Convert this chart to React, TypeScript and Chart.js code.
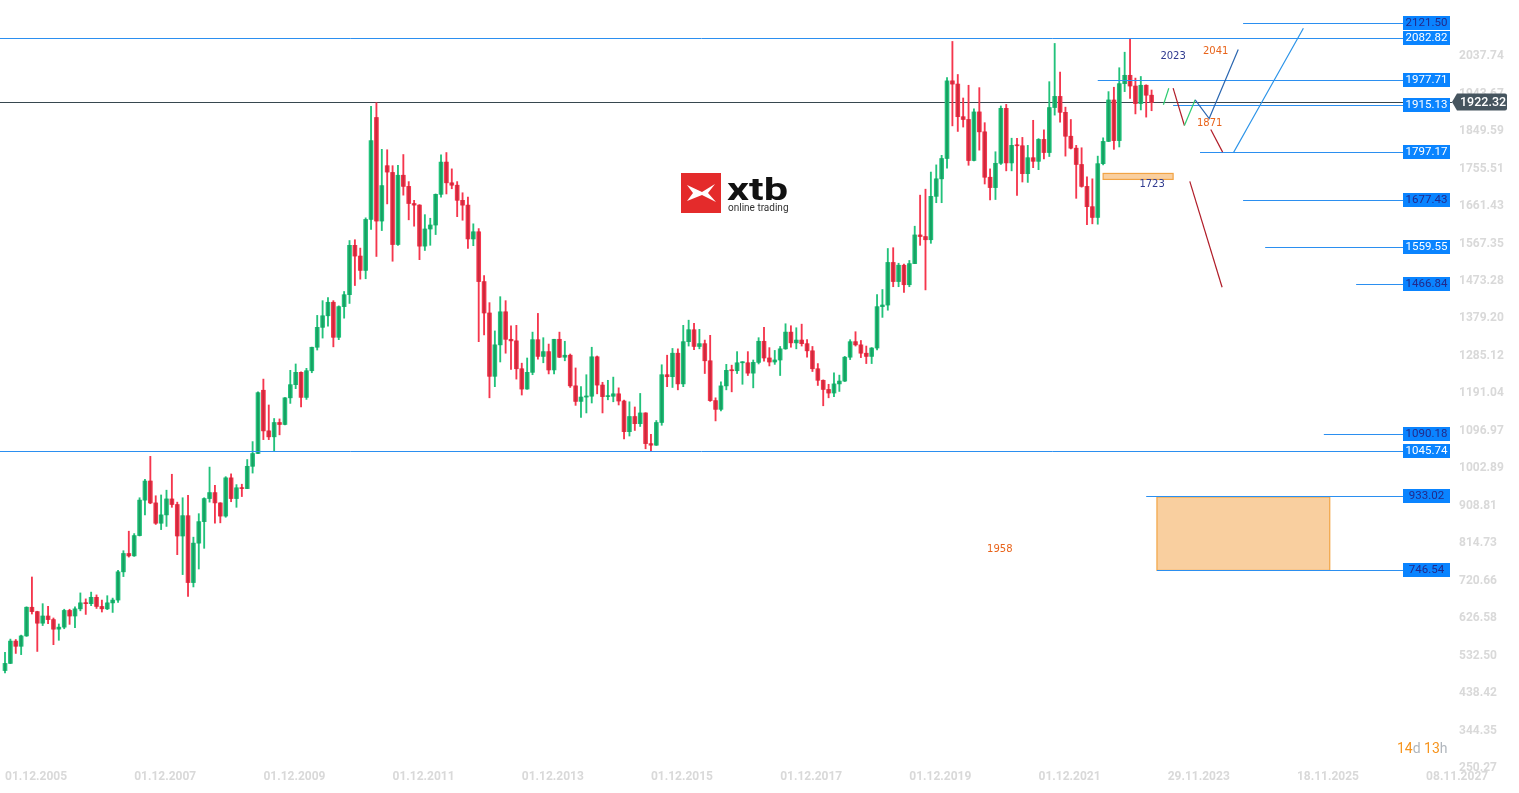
import React, { useEffect, useRef } from "react";
import { Chart, registerables } from "chart.js";

Chart.register(...registerables);

// Monthly gold candles, index 0 = Dec 2005, last = Sep 2023 (running)
const OPEN = [
  495, 513, 569, 556, 582, 654, 643, 614, 632, 623,
  599, 604, 646, 632, 650, 665, 663, 679, 656, 650,
  665, 672, 743, 789, 783, 834, 923, 971, 916, 865,
  886, 926, 912, 833, 884, 716, 815, 869, 927, 942,
  916, 883, 979, 927, 954, 952, 1008, 1040, 1199, 1097,
  1082, 1118, 1113, 1180, 1213, 1244, 1181, 1248, 1307, 1357,
  1386, 1420, 1332, 1409, 1439, 1563, 1536, 1500, 1628, 1884,
  1624, 1763, 1746, 1565, 1739, 1711, 1668, 1664, 1561, 1604,
  1614, 1691, 1772, 1720, 1714, 1676, 1664, 1579, 1597, 1472,
  1393, 1234, 1313, 1396, 1327, 1323, 1253, 1202, 1244, 1326,
  1284, 1296, 1250, 1327, 1282, 1287, 1210, 1171, 1182, 1184,
  1283, 1212, 1183, 1184, 1190, 1172, 1095, 1133, 1115, 1142,
  1065, 1061, 1118, 1238, 1233, 1292, 1215, 1321, 1351, 1309,
  1316, 1273, 1173, 1151, 1210, 1249, 1248, 1268, 1268, 1242,
  1269, 1322, 1280, 1270, 1275, 1303, 1345, 1318, 1325, 1316,
  1298, 1253, 1224, 1201, 1192, 1215, 1222, 1282, 1321, 1313,
  1292, 1284, 1305, 1409, 1413, 1520, 1472, 1513, 1464, 1517,
  1589, 1585, 1577, 1686, 1730, 1781, 1976, 1968, 1886, 1879,
  1776, 1898, 1848, 1734, 1708, 1769, 1907, 1770, 1814, 1813,
  1743, 1783, 1774, 1829, 1796, 1909, 1937, 1897, 1837, 1807,
  1766, 1711, 1660, 1633, 1768, 1824, 1928, 1826, 1969, 1990,
  1963, 1919, 1965, 1940,
];
const HIGH = [
  541, 574, 573, 584, 655, 730, 644, 663, 656, 627,
  612, 649, 649, 655, 690, 675, 692, 685, 672, 683,
  677, 747, 796, 845, 839, 929, 975, 1033, 934, 936,
  948, 988, 918, 929, 935, 830, 889, 929, 1006, 960,
  916, 982, 989, 962, 963, 1025, 1070, 1195, 1227, 1162,
  1128, 1127, 1180, 1249, 1265, 1245, 1254, 1307, 1387, 1424,
  1432, 1424, 1411, 1447, 1575, 1577, 1556, 1632, 1912, 1921,
  1804, 1803, 1763, 1764, 1791, 1723, 1676, 1665, 1640, 1631,
  1692, 1790, 1796, 1755, 1723, 1695, 1684, 1617, 1605, 1487,
  1419, 1348, 1434, 1424, 1361, 1362, 1267, 1280, 1345, 1392,
  1331, 1315, 1325, 1345, 1322, 1290, 1255, 1208, 1238, 1307,
  1285, 1219, 1224, 1232, 1205, 1174, 1170, 1157, 1191, 1142,
  1088, 1123, 1263, 1287, 1304, 1303, 1362, 1375, 1367, 1352,
  1325, 1337, 1180, 1220, 1264, 1262, 1296, 1270, 1296, 1275,
  1331, 1357, 1306, 1299, 1309, 1366, 1361, 1356, 1365, 1326,
  1309, 1266, 1225, 1214, 1243, 1237, 1284, 1326, 1346, 1324,
  1310, 1306, 1439, 1452, 1555, 1557, 1518, 1516, 1525, 1611,
  1689, 1704, 1747, 1765, 1789, 1984, 2075, 1992, 1933, 1965,
  1906, 1959, 1871, 1755, 1798, 1913, 1917, 1832, 1832, 1834,
  1814, 1877, 1831, 1853, 1974, 2070, 1998, 1910, 1879, 1814,
  1808, 1735, 1730, 1787, 1833, 1949, 1960, 2009, 2048, 2081,
  1983, 1987, 1966, 1953,
];
const LOW = [
  489, 513, 538, 535, 581, 637, 543, 608, 613, 560,
  571, 600, 611, 603, 645, 636, 658, 651, 642, 648,
  641, 666, 731, 780, 782, 833, 886, 914, 862, 849,
  857, 905, 786, 736, 681, 705, 750, 802, 918, 865,
  866, 880, 919, 905, 932, 952, 991, 1040, 1075, 1075,
  1045, 1087, 1112, 1166, 1203, 1157, 1176, 1243, 1300, 1330,
  1360, 1308, 1326, 1380, 1417, 1462, 1478, 1479, 1603, 1535,
  1600, 1667, 1523, 1563, 1689, 1627, 1611, 1527, 1550, 1563,
  1590, 1684, 1692, 1705, 1635, 1626, 1555, 1562, 1321, 1338,
  1180, 1208, 1270, 1292, 1251, 1227, 1187, 1202, 1238, 1277,
  1268, 1240, 1240, 1281, 1273, 1206, 1161, 1131, 1142, 1167,
  1190, 1142, 1175, 1170, 1162, 1077, 1084, 1098, 1108, 1052,
  1046, 1061, 1111, 1208, 1206, 1200, 1208, 1310, 1301, 1303,
  1241, 1171, 1122, 1147, 1200, 1195, 1241, 1214, 1236, 1205,
  1265, 1272, 1260, 1264, 1236, 1302, 1307, 1303, 1310, 1282,
  1246, 1211, 1160, 1180, 1183, 1196, 1221, 1276, 1310, 1281,
  1266, 1266, 1300, 1382, 1400, 1459, 1459, 1445, 1459, 1517,
  1563, 1451, 1568, 1670, 1670, 1757, 1863, 1849, 1860, 1764,
  1775, 1802, 1717, 1677, 1678, 1766, 1750, 1750, 1688, 1722,
  1721, 1758, 1753, 1780, 1786, 1890, 1872, 1787, 1805, 1681,
  1709, 1615, 1617, 1616, 1765, 1824, 1804, 1810, 1949, 1932,
  1893, 1903, 1885, 1901,
];
const CLOSE = [
  513, 569, 556, 582, 654, 643, 614, 632, 623, 599,
  604, 646, 632, 650, 665, 663, 679, 656, 650, 665,
  672, 743, 789, 783, 834, 923, 971, 916, 865, 886,
  926, 912, 833, 884, 716, 815, 869, 927, 942, 916,
  883, 979, 927, 954, 952, 1008, 1040, 1193, 1097, 1082,
  1118, 1113, 1180, 1213, 1244, 1181, 1248, 1307, 1357, 1386,
  1420, 1332, 1409, 1439, 1563, 1536, 1500, 1628, 1826, 1624,
  1713, 1747, 1565, 1739, 1711, 1668, 1664, 1561, 1604, 1614,
  1691, 1772, 1720, 1714, 1676, 1664, 1579, 1597, 1472, 1393,
  1234, 1313, 1396, 1327, 1323, 1253, 1202, 1244, 1326, 1284,
  1296, 1250, 1327, 1282, 1287, 1210, 1171, 1182, 1184, 1283,
  1212, 1183, 1184, 1190, 1172, 1095, 1133, 1115, 1142, 1065,
  1061, 1118, 1238, 1233, 1292, 1215, 1321, 1351, 1309, 1316,
  1273, 1173, 1151, 1210, 1249, 1248, 1268, 1268, 1242, 1269,
  1322, 1280, 1270, 1275, 1303, 1345, 1318, 1325, 1316, 1298,
  1253, 1224, 1201, 1192, 1215, 1222, 1282, 1321, 1313, 1292,
  1284, 1305, 1409, 1413, 1520, 1472, 1513, 1464, 1517, 1589,
  1585, 1577, 1686, 1730, 1781, 1976, 1968, 1886, 1879, 1776,
  1898, 1848, 1734, 1708, 1769, 1907, 1770, 1814, 1813, 1743,
  1783, 1774, 1829, 1796, 1909, 1937, 1897, 1837, 1807, 1766,
  1711, 1660, 1633, 1768, 1824, 1928, 1826, 1969, 1990, 1963,
  1919, 1965, 1940, 1922.32,
];

const LAST_PRICE = 1922.32;

// x axis (month index since Dec 2005)
const X_TICK_MONTHS = [0, 24, 48, 72, 96, 120, 144, 168, 192, 216, 240, 264];
const X_TICK_LABELS = [
  "01.12.2005", "01.12.2007", "01.12.2009", "01.12.2011", "01.12.2013", "01.12.2015",
  "01.12.2017", "01.12.2019", "01.12.2021", "29.11.2023", "18.11.2025", "08.11.2027",
];
const X_MIN = -0.929;
const X_MAX = 268.81;

// y axis
const Y_TICK_LABELS = [
  "250.27", "344.35", "438.42", "532.50", "626.58", "720.66", "814.73", "908.81",
  "1002.89", "1096.97", "1191.04", "1285.12", "1379.20", "1473.28", "1567.35",
  "1661.43", "1755.51", "1849.59", "1943.67", "2037.74",
];
const Y_MIN = 250.27;
const Y_MAX = 2176.6;

// horizontal levels: price, month where the drawn line starts
const LEVEL_PRICES = [2121.5, 2082.82, 1977.71, 1915.13, 1797.17, 1677.43, 1559.55, 1466.84, 1090.18, 1045.74, 933.02, 746.54];
const LEVEL_START = [230.0, -1, 203.0, 217.0, 222.0, 230.0, 234.1, 251.0, 245.0, -1, 212.0, 214.0];
const LEVEL_DARK_TEXT = [true, false, false, false, false, true, false, true, true, false, true, true];

// zones: [m0, m1, p0, p1]
const ZONES = [
  [204.0, 217.0, 1728.5, 1743.5],
  [214.0, 246.1, 746.54, 931.0],
];

// projection paths [month, price]
const PROJ_PATHS = [
  [[215.2, 1915.9], [216.2, 1957.6]],
  [[217.0, 1957.6], [219.1, 1864.0]],
  [[219.1, 1864.0], [221.1, 1928.4]],
  [[221.1, 1928.4], [223.7, 1881.5], [229.1, 2054.6]],
  [[224.0, 1853.9], [226.2, 1797.0]],
  [[228.2, 1795.4], [241.2, 2108.0]],
  [[220.1, 1723.5], [226.1, 1457.6]],
];
const PROJ_COLORS = ["#2ecc71", "#b01c28", "#2ecc71", "#2a66b0", "#b01c28", "#2a93e8", "#b01c28"];

// text notes
const NOTE_TEXT = ["2023", "2041", "1871", "1723", "1958"];
const NOTE_M = [217.0, 224.9, 223.8, 213.1, 184.8];
const NOTE_P = [2037.0, 2049.5, 1869.0, 1716.0, 800.0];
const NOTE_COLORS = ["#2f3a8f", "#e8631a", "#e8631a", "#2f3a8f", "#e8631a"];

const GREEN = "#22c27b";
const GREEN_DARK = "#17a062";
const RED = "#f5364d";
const RED_DARK = "#cc293c";

function drawLogo(ctx: CanvasRenderingContext2D) {
  ctx.save();
  const x0 = 681, y0 = 173, s = 40;
  ctx.fillStyle = "#e42b2b";
  ctx.fillRect(x0, y0, s, s);
  ctx.fillStyle = "#ffffff";
  ctx.beginPath();
  ctx.moveTo(x0 + 6, y0 + 12);
  ctx.lineTo(x0 + 21, y0 + 19);
  ctx.lineTo(x0 + 34, y0 + 11);
  ctx.lineTo(x0 + 27, y0 + 20);
  ctx.lineTo(x0 + 35, y0 + 29);
  ctx.lineTo(x0 + 21, y0 + 22);
  ctx.lineTo(x0 + 6, y0 + 28);
  ctx.lineTo(x0 + 12, y0 + 20);
  ctx.closePath();
  ctx.fill();
  ctx.fillStyle = "#111111";
  ctx.font = "bold 32px Roboto";
  ctx.textBaseline = "alphabetic";
  const w = ctx.measureText("xtb").width;
  ctx.translate(727, 200);
  ctx.scale(61 / w, 1);
  ctx.fillText("xtb", 0, 0);
  ctx.restore();
  ctx.save();
  ctx.fillStyle = "#333333";
  ctx.font = "10px Roboto";
  ctx.textBaseline = "alphabetic";
  ctx.fillText("online trading", 728, 211);
  ctx.restore();
}

const overlay = {
  id: "overlay",
  beforeDatasetsDraw(chart: any) {
    const { ctx, chartArea: a, scales } = chart;
    const y = scales.y;
    drawLogo(ctx);
    const py = Math.round(y.getPixelForValue(LAST_PRICE)) + 0.5;
    ctx.save();
    ctx.strokeStyle = "#37474f";
    ctx.lineWidth = 1;
    ctx.beginPath();
    ctx.moveTo(a.left, py);
    ctx.lineTo(a.right, py);
    ctx.stroke();
    ctx.restore();
  },
  afterDatasetsDraw(chart: any) {
    const { ctx, chartArea: a, scales } = chart;
    const x = scales.x, y = scales.y;
    ctx.save();
    ZONES.forEach((z) => {
      const x0 = x.getPixelForValue(z[0]);
      const x1 = x.getPixelForValue(z[1]);
      const y0 = y.getPixelForValue(z[3]);
      const y1 = y.getPixelForValue(z[2]);
      ctx.fillStyle = "#f9cf9f";
      ctx.fillRect(x0, y0, x1 - x0, y1 - y0);
      ctx.strokeStyle = "#f2a444";
      ctx.lineWidth = 1.2;
      ctx.strokeRect(x0, y0, x1 - x0, y1 - y0);
    });
    const boxLeft = a.right - 49;
    LEVEL_PRICES.forEach((p, i) => {
      const yy = Math.round(y.getPixelForValue(p)) + 0.5;
      const xs = Math.max(a.left, x.getPixelForValue(LEVEL_START[i]));
      ctx.strokeStyle = "#2b8ff0";
      ctx.lineWidth = 1;
      ctx.beginPath();
      ctx.moveTo(xs, yy);
      ctx.lineTo(boxLeft, yy);
      ctx.stroke();
    });
    PROJ_PATHS.forEach((path, i) => {
      ctx.strokeStyle = PROJ_COLORS[i];
      ctx.lineWidth = 1.2;
      ctx.beginPath();
      path.forEach((pt, j) => {
        const px = x.getPixelForValue(pt[0]);
        const pyy = y.getPixelForValue(pt[1]);
        if (j === 0) ctx.moveTo(px, pyy);
        else ctx.lineTo(px, pyy);
      });
      ctx.stroke();
    });
    ctx.font = "10px 'DejaVu Sans'";
    ctx.textAlign = "center";
    ctx.textBaseline = "middle";
    NOTE_TEXT.forEach((t, i) => {
      ctx.fillStyle = NOTE_COLORS[i];
      ctx.fillText(t, x.getPixelForValue(NOTE_M[i]), y.getPixelForValue(NOTE_P[i]));
    });
    ctx.restore();
  },
  afterDraw(chart: any) {
    const { ctx, chartArea: a, scales } = chart;
    const y = scales.y;
    ctx.save();
    ctx.font = "11.5px Roboto";
    ctx.textAlign = "center";
    ctx.textBaseline = "middle";
    LEVEL_PRICES.forEach((p, i) => {
      const yy = Math.round(y.getPixelForValue(p));
      ctx.fillStyle = "#0a84ff";
      ctx.fillRect(a.right - 49, yy - 7, 47, 14);
      ctx.fillStyle = LEVEL_DARK_TEXT[i] ? "#232a8a" : "#ffffff";
      ctx.fillText(p.toFixed(2), a.right - 25.5, yy + 0.5);
    });
    const cy = Math.round(y.getPixelForValue(LAST_PRICE));
    const bx = a.right;
    ctx.fillStyle = "#46555f";
    ctx.beginPath();
    ctx.moveTo(bx, cy);
    ctx.lineTo(bx + 5, cy - 8.5);
    ctx.lineTo(bx + 53, cy - 8.5);
    ctx.quadraticCurveTo(bx + 55, cy - 8.5, bx + 55, cy - 6.5);
    ctx.lineTo(bx + 55, cy + 6.5);
    ctx.quadraticCurveTo(bx + 55, cy + 8.5, bx + 53, cy + 8.5);
    ctx.lineTo(bx + 5, cy + 8.5);
    ctx.closePath();
    ctx.fill();
    ctx.fillStyle = "#ffffff";
    ctx.font = "500 12.5px Roboto";
    ctx.textAlign = "left";
    ctx.fillText(LAST_PRICE.toFixed(2), bx + 8, cy + 0.5);
    ctx.font = "14px Roboto";
    ctx.textBaseline = "alphabetic";
    let cx = 1397;
    const parts: [string, string][] = [["14", "#f7941d"], ["d ", "#b0b6bd"], ["13", "#f7941d"], ["h", "#b0b6bd"]];
    parts.forEach(([t, c]) => {
      ctx.fillStyle = c;
      ctx.fillText(t, cx, 753);
      cx += ctx.measureText(t).width;
    });
    ctx.restore();
  },
};

export default function App() {
  const ref = useRef<HTMLCanvasElement>(null);
  useEffect(() => {
    const canvas = ref.current!;
    const idx = CLOSE.map((_, i) => i);
    const up = idx.map((i) => CLOSE[i] >= OPEN[i]);
    const bodies = idx.map((i) => ({ x: i, y: [OPEN[i], CLOSE[i]] }));
    const wicks = idx.map((i) => ({ x: i, y: [LOW[i], HIGH[i]] }));
    const chart = new Chart(canvas, {
      type: "bar",
      data: {
        datasets: [
          {
            data: wicks as any,
            backgroundColor: idx.map((i) => (up[i] ? GREEN : RED)),
            barThickness: 1.2,
            grouped: false,
            order: 3,
          } as any,
          {
            data: bodies as any,
            backgroundColor: idx.map((i) => (up[i] ? GREEN : RED)),
            barThickness: 4,
            grouped: false,
            minBarLength: 1,
            order: 2,
          } as any,
          {
            data: bodies as any,
            backgroundColor: idx.map((i) => (up[i] ? GREEN_DARK : RED_DARK)),
            barThickness: 1.4,
            grouped: false,
            minBarLength: 1,
            order: 1,
          } as any,
        ],
      },
      options: {
        animation: false,
        responsive: true,
        maintainAspectRatio: false,
        devicePixelRatio: 1,
        layout: { padding: { top: 1, left: 0, right: 0, bottom: 0 } },
        plugins: { legend: { display: false }, tooltip: { enabled: false } },
        scales: {
          x: {
            type: "linear",
            min: X_MIN,
            max: X_MAX,
            offset: false,
            grid: { display: false, drawTicks: false },
            border: { display: false },
            afterBuildTicks: (s: any) => {
              s.ticks = X_TICK_MONTHS.map((v) => ({ value: v }));
            },
            afterFit: (s: any) => {
              s.height = 25;
              s.paddingLeft = 0;
              s.paddingRight = 0;
            },
            ticks: {
              autoSkip: false,
              maxRotation: 0,
              minRotation: 0,
              align: "start",
              padding: 2,
              color: "#d9d9d9",
              font: { family: "Roboto", size: 12, weight: "bold" },
              callback: (v: any) => {
                const k = X_TICK_MONTHS.indexOf(Number(v));
                return k >= 0 ? X_TICK_LABELS[k] : "";
              },
            },
          },
          y: {
            type: "linear",
            position: "right",
            min: Y_MIN,
            max: Y_MAX,
            grid: { display: false, drawTicks: false },
            border: { display: false },
            afterBuildTicks: (s: any) => {
              s.ticks = Y_TICK_LABELS.map((t) => ({ value: parseFloat(t) }));
            },
            afterFit: (s: any) => {
              s.width = 67;
              s.paddingTop = 0;
              s.paddingBottom = 0;
            },
            ticks: {
              padding: 7,
              color: "#d9d9d9",
              font: { family: "Roboto", size: 12, weight: "bold" },
              callback: (v: any) => {
                const k = Y_TICK_LABELS.findIndex((t) => Math.abs(parseFloat(t) - Number(v)) < 0.001);
                return k >= 0 ? Y_TICK_LABELS[k] : "";
              },
            },
          },
        },
      },
      plugins: [overlay],
    } as any);
    return () => chart.destroy();
  }, []);
  return (
    <div style={{ position: "fixed", left: 0, top: 0, width: 1519, height: 793, background: "#ffffff" }}>
      <canvas ref={ref} />
    </div>
  );
}
